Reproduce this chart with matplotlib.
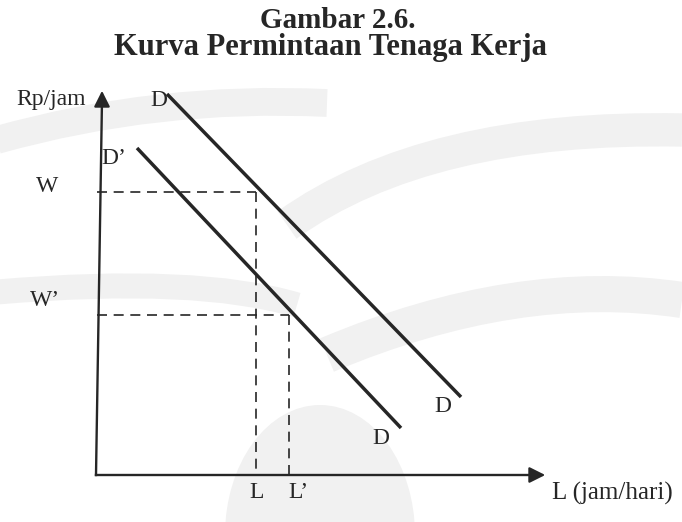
import matplotlib
matplotlib.use("Agg")
import matplotlib.pyplot as plt
from matplotlib.path import Path
from matplotlib.patches import PathPatch, Ellipse

# demand curves: (L, W) end points, origin at the axis corner
d_L = [70, 364]
d_W = [381, 78]
d2_L = [40, 304]
d2_W = [327, 47]

# wage levels and the matching labour quantities
W = 283
W2 = 160
L = 159
L2 = 192

x_max = 451
y_max = 387

ink = "#262626"
wm = "#f1f1f1"
serif = ["Liberation Serif", "DejaVu Serif"]

fig = plt.figure(figsize=(6.82, 5.22), dpi=100)
ax = fig.add_axes([0, 0, 1, 1])
ax.set_xlim(-97, 585)
ax.set_ylim(-47, 475)
ax.axis("off")

# faint background logo
def band(pts, lw):
    codes = [Path.MOVETO] + [Path.CURVE3] * (len(pts) - 1)
    ax.add_patch(PathPatch(Path(pts, codes), fill=False, lw=lw, ec=wm,
                           capstyle="butt", zorder=0))

band([(-100, 335), (60, 380), (230, 372)], 20)
band([(585, 345), (330, 350), (190, 250)], 24)
band([(-100, 183), (100, 200), (200, 170)], 18)
band([(585, 175), (420, 200), (230, 120)], 26)
ax.add_patch(Ellipse((223, -60), 190, 260, fc=wm, ec="none", zorder=0))

# axes with arrow heads
ax.plot([-1, 5], [0, y_max - 12], color=ink, lw=1.7, zorder=2)
ax.plot([-1, x_max - 12], [0, 0], color=ink, lw=1.7, zorder=2)
ax.annotate("", xy=(5, y_max), xytext=(5, y_max - 20),
            arrowprops=dict(arrowstyle="-|>", color=ink, lw=1.6, mutation_scale=24))
ax.annotate("", xy=(x_max, 0), xytext=(x_max - 20, 0),
            arrowprops=dict(arrowstyle="-|>", color=ink, lw=1.6, mutation_scale=24))

# demand curves
ax.plot(d_L, d_W, color=ink, lw=2.5, solid_capstyle="butt", zorder=3)
ax.plot(d2_L, d2_W, color=ink, lw=2.5, solid_capstyle="butt", zorder=3)

# guide lines
dash = dict(color=ink, lw=1.2, ls=(0, (6, 4)), zorder=2)
ax.plot([0, L], [W, W], **dash)
ax.plot([L, L], [W, 0], **dash)
ax.plot([0, L2], [W2, W2], **dash)
ax.plot([L2, L2], [W2, 0], **dash)

txt = dict(family=serif, color=ink, fontsize=17, ha="center", va="center")
ax.text(-46, 375, "Rp/jam", **txt)
ax.text(62, 375, "D", **txt)
ax.text(17, 316, "D’", **txt)
ax.text(-50, 288, "W", **txt)
ax.text(-52, 175, "W’", **txt)
ax.text(346, 69, "D", **txt)
ax.text(284, 37, "D", **txt)
ax.text(160, -18, "L", **txt)
ax.text(201, -18, "L’", **txt)
ax.text(515, -18, "L (jam/hari)", **dict(txt, fontsize=18))

fig.text(338 / 682, 1 - 20 / 522, "Gambar 2.6.", family=serif, weight="bold",
         fontsize=21, color=ink, ha="center", va="center")
fig.text(331 / 682, 1 - 47 / 522, "Kurva Permintaan Tenaga Kerja", family=serif,
         weight="bold", fontsize=22, color=ink, ha="center", va="center")

fig.savefig("out.png", dpi=100, facecolor="white")
